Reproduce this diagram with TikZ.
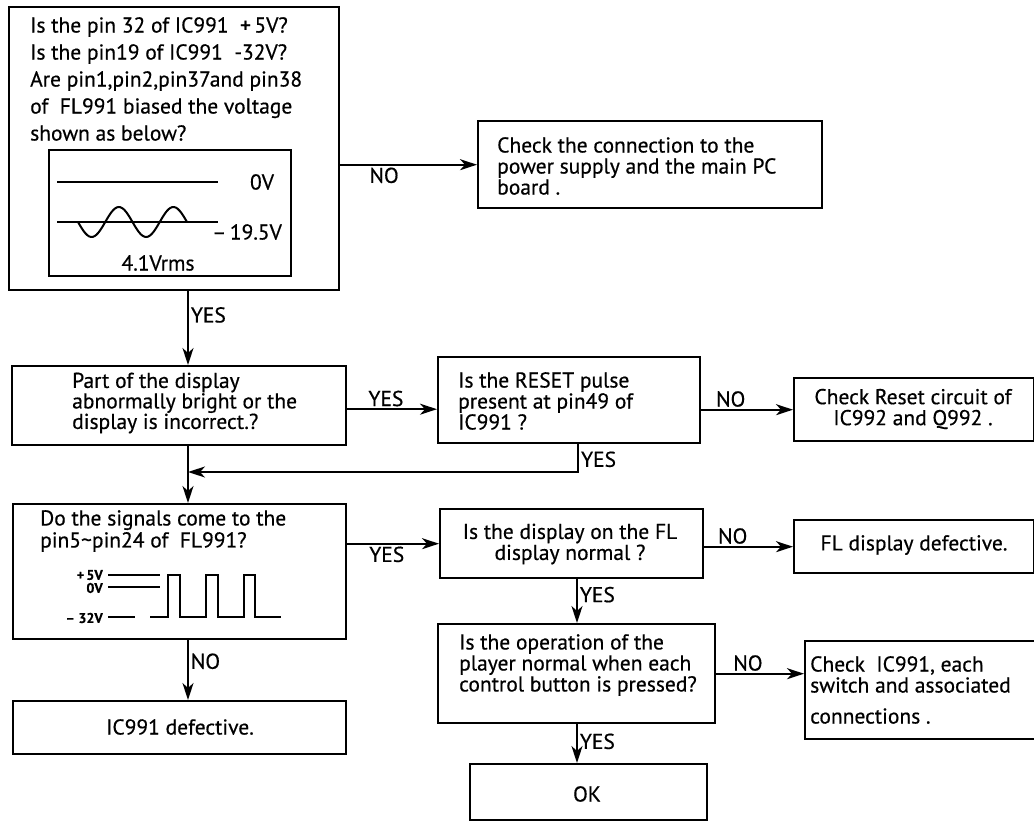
\documentclass[tikz,border=0pt]{standalone}
\usepackage{fontspec}
\setmainfont{PT Sans}[FakeBold=0.5]
\usetikzlibrary{arrows.meta}
\newcommand{\fs}{\fontsize{21.5}{21}\selectfont}
\tikzset{
  box/.style={draw,line width=2.4pt,inner sep=0pt,anchor=north west},
  txt/.style={inner sep=0pt,align=left,anchor=west},
  lbl/.style={font=\fs,inner sep=2pt},
  arr/.style={line width=1.8pt,-{Stealth[length=17pt,width=11pt,inset=5pt]}},
  sig/.style={line width=2pt},
}
\begin{document}
\begin{tikzpicture}[x=1pt,y=-1pt,font=\fs]
  % positions taken from the sheet, y grows downwards
  \useasboundingbox (0,0) rectangle (1034,826);
  \node[box,minimum width=330pt,minimum height=283pt] (q1) at (8,6) {};
  \node[txt,font=\fontsize{21.5}{27}\selectfont] (q1t) at (30,79)
    {Is the pin 32 of IC991\ \ +\,5V?\\Is the pin19 of IC991\ \ -32V?\\Are pin1,pin2,pin37and pin38\\of\ \ FL991 biased the voltage\\shown as below?};
  \node[box,minimum width=242pt,minimum height=126pt] (wave) at (48,149) {};
  \draw[sig] (57,182) -- (218,182);
  \draw[sig] (57,222) -- (218,222);
  \draw[sig,domain=78:187,samples=60,smooth] plot (\x,{222+15*sin((\x-78)/54.5*360)});
  \node (v0) at (262,182) {0V};
  \node (v19) at (247,232) {\textendash\,19.5V};
  \node (vrms) at (158,263) {4.1Vrms};

  \node[box,minimum width=344pt,minimum height=87pt] (chk1) at (477,120) {};
  \node[txt] (chk1t) at (497,166) {Check the connection to the\\power supply and the main PC\\board .};

  \node[box,minimum width=334pt,minimum height=79pt] (q2) at (11,365) {};
  \node[txt,font=\fontsize{21.5}{20.5}\selectfont] (q2t) at (72,403) {Part of the display\\abnormally bright or the\\display is incorrect.?};
  \node[box,minimum width=262pt,minimum height=86pt] (q3) at (437,356) {};
  \node[txt] (q3t) at (458,401) {Is the RESET pulse\\present at pin49 of\\IC991 ?};
  \node[box,minimum width=240pt,minimum height=63pt] (fix2) at (793,377) {};
  \node[txt,align=center,anchor=center] (fix2t) at (913,409) {Check Reset circuit of\\IC992 and Q992 .};

  \node[box,minimum width=333pt,minimum height=135pt] (q4) at (12,503) {};
  \node[txt,font=\fontsize{21.5}{22}\selectfont] (q4t) at (40,531) {Do the signals come to the\\pin5\textasciitilde pin24 of\ \ FL991?};
  \begin{scope}[font=\fontsize{14}{14}\selectfont\bfseries]
    \node[anchor=east,inner sep=1pt] (p5) at (104,575) {+\,5V};
    \node[anchor=east,inner sep=1pt] (p0) at (104,588) {0V};
    \node[anchor=east,inner sep=1pt] (p32) at (104,618) {\textendash\ 32V};
  \end{scope}
  \draw[sig] (108,575) -- (160,575);
  \draw[sig] (108,587) -- (160,587);
  \draw[sig] (108,617) -- (135,617);
  \draw[sig] (150,617) -- (168,617) -- (168,575) -- (180,575) -- (180,617)
    -- (206,617) -- (206,575) -- (218,575) -- (218,617)
    -- (244,617) -- (244,575) -- (255,575) -- (255,617) -- (281,617);
  \node[box,minimum width=263pt,minimum height=69pt] (q5) at (439,508) {};
  \node[txt,align=center,anchor=center] (q5t) at (570,544) {Is the display on the FL\\display normal ?};
  \node[box,minimum width=240pt,minimum height=53pt] (fix3) at (793,519) {};
  \node[txt,anchor=center] (fix3t) at (914,545) {FL display defective.};

  \node[box,minimum width=277pt,minimum height=99pt] (q6) at (437,623) {};
  \node[txt] (q6t) at (459,665) {Is the operation of the\\player normal when each\\control button is pressed?};
  \node[box,minimum width=230pt,minimum height=98pt] (fix4) at (804,640) {};
  \node[txt] (fix4t) at (810,690) {Check\ \ IC991, each\\switch and associated\\[10pt]connections .};
  \node[box,minimum width=333pt,minimum height=53pt] (q7) at (12,700) {};
  \node[txt,anchor=center] (q7t) at (180,727) {IC991 defective.};
  \node[box,minimum width=237pt,minimum height=56pt] (ok) at (469,763) {};
  \node[txt,anchor=center] (okt) at (587,794) {OK};

  \coordinate (trunk) at (188,0);
  \coordinate (col) at (577,0);
  \coordinate (merge) at (188,472);
  \coordinate (yes2) at ([yshift=-3.5pt]q2.east);
  \draw[arr] (q1.east |- chk1.west) -- node[lbl,below,pos=.32] {NO} (chk1.west);
  \draw[arr] (trunk |- q1.south) -- node[lbl,right,pos=.32] {YES} (trunk |- q2.north);
  \draw[arr] (yes2) -- node[lbl,above,pos=.43] {YES} (yes2 -| q3.west);
  \draw[arr] (q3.east |- fix2.west) -- node[lbl,above,pos=.32] {NO} (fix2.west);
  \draw[arr] ([xshift=9pt]q3.south) |- node[lbl,right,pos=.27] {YES} (merge);
  \draw[arr] (trunk |- q2.south) -- (trunk |- q4.north);
  \draw[arr] (q4.east |- q5.west) -- node[lbl,below,pos=.43] {YES} (q5.west);
  \draw[arr] (trunk |- q4.south) -- node[lbl,right,pos=.35] {NO} (trunk |- q7.north);
  \draw[arr] (q5.east |- fix3.west) -- node[lbl,above,pos=.32] {NO} (fix3.west);
  \draw[arr] (col |- q5.south) -- node[lbl,right,pos=.35] {YES} (col |- q6.north);
  \draw[arr] (q6.east) -- node[lbl,above,pos=.36] {NO} (q6.east -| fix4.west);
  \draw[arr] (col |- q6.south) -- node[lbl,right,pos=.44] {YES} (col |- ok.north);
\end{tikzpicture}
\end{document}
